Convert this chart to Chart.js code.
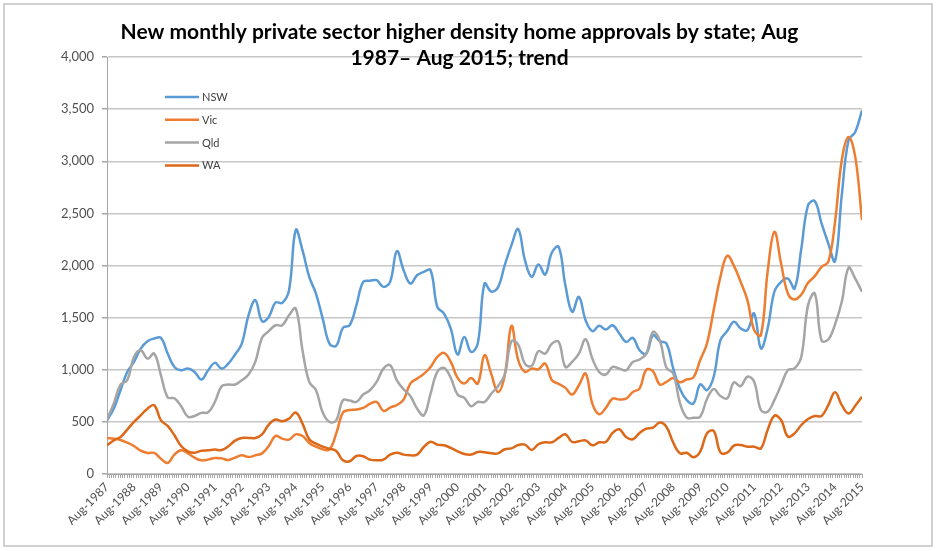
<!DOCTYPE html>
<html>
<head>
<meta charset="utf-8">
<script src="https://cdn.jsdelivr.net/npm/chart.js@4.4.1/dist/chart.umd.min.js"></script>
<style>
html,body{margin:0;padding:0;background:#fff;}
canvas{display:block;}
</style>
</head>
<body>
<canvas id="c" width="939" height="551"></canvas>
<script>
// ---- data (quarterly readings, Aug-1987 .. Aug-2015) ----
const chartTitle = ['New monthly private sector higher density home approvals by state; Aug', '1987\u2013 Aug 2015; trend'];
const xTickLabels = ['Aug-1987','Aug-1988','Aug-1989','Aug-1990','Aug-1991','Aug-1992','Aug-1993','Aug-1994','Aug-1995','Aug-1996',
  'Aug-1997','Aug-1998','Aug-1999','Aug-2000','Aug-2001','Aug-2002','Aug-2003','Aug-2004','Aug-2005','Aug-2006',
  'Aug-2007','Aug-2008','Aug-2009','Aug-2010','Aug-2011','Aug-2012','Aug-2013','Aug-2014','Aug-2015'];
const seriesNames = ['NSW','Vic','Qld','WA'];

const nsw = [515,627,803,979, 1075,1203,1274,1300, 1306,1155,1027,995, 1011,979,906,995,
  1066,1011,1059,1146, 1251,1523,1667,1466, 1507,1645,1642,1763, 2340,2147,1891,1731,
  1491,1251,1230,1402, 1427,1619,1843,1853, 1859,1795,1843,2138, 1955,1827,1907,1939,
  1955,1603,1539,1395, 1146,1315,1171,1251, 1827,1750,1790,2003, 2195,2349,2051,1891,
  2010,1914,2125,2179, 1811,1555,1699,1475, 1370,1421,1386,1427, 1347,1267,1306,1187,
  1155,1331,1274,1251, 1011,815,709,677, 859,805,933,1284, 1371,1460,1396,1380,
  1540,1205,1396,1748, 1843,1875,1780,2163, 2578,2617,2403,2211, 2042,2674,3201,3281,
  3489];
const vic = [346,339,326,301, 269,224,202,202, 147,106,186,227, 198,157,131,138,
  154,150,134,157, 179,163,179,198, 269,365,339,330, 380,365,298,262,
  237,234,387,589, 614,618,634,672, 691,605,637,662, 714,867,915,960,
  1027,1123,1162,1075, 922,867,922,867, 1139,960,787,947, 1421,1091,979,1011,
  1005,1059,899,864, 826,762,851,963, 675,573,634,723, 714,723,787,819,
  1000,985,858,883, 922,880,907,927, 1093,1252,1572,1891, 2093,1997,1843,1668,
  1380,1332,1939,2323, 2019,1732,1674,1722, 1834,1898,1987,2035, 2419,3010,3233,3042,
  2435];
const qld = [525,675,858,899, 1123,1187,1107,1155, 947,736,726,650, 550,557,586,592,
  691,842,858,858, 899,954,1075,1306, 1370,1427,1427,1523, 1587,1187,883,803,
  589,499,515,707, 704,691,762,803, 883,1011,1043,899, 813,749,627,563,
  771,979,1018,922, 762,730,650,691, 691,770,842,954, 1274,1242,1056,1037,
  1178,1155,1251,1267, 1027,1075,1155,1293, 1107,979,954,1027, 1011,995,1075,1098,
  1155,1363,1283,1018, 963,680,540,540, 550,719,815,748, 725,879,843,933,
  885,613,597,709, 853,997,1013,1125, 1620,1732,1280,1290, 1435,1652,1978,1875,
  1748];
const wa = [275,323,355,426, 499,563,627,660, 515,461,371,269, 218,205,224,227,
  234,230,266,320, 346,346,346,381, 474,522,506,531, 590,483,333,291,
  262,243,221,131, 122,173,170,138, 131,138,186,205, 186,179,186,259,
  310,282,275,250, 218,192,186,211, 208,198,198,237, 246,278,282,230,
  285,304,304,346, 381,307,314,323, 275,304,307,394, 429,355,333,394,
  435,445,493,451, 301,198,204,160, 214,390,412,208, 204,272,278,262,
  262,246,422,559, 518,358,390,470, 527,556,556,661, 783,661,581,655,
  741];

const seriesColors = ['#5B9BD5','#ED7D31','#A5A5A5','#DC6819'];
const monthsPerReading = 3;
const monthsTotal = (xTickLabels.length - 1) * 12;

function toPoints(arr){ return arr.map((v,i)=>({x:i*monthsPerReading, y:v})); }

const FONT = 'Lato, "Open Sans", "DejaVu Sans", sans-serif';

const framePlugin = {
  id:'frame',
  beforeDraw(chart){
    const c = chart.ctx;
    c.save();
    c.fillStyle = '#ffffff';
    c.fillRect(0,0,chart.width,chart.height);
    c.strokeStyle = '#c2c2c2';
    c.lineWidth = 1.5;
    c.strokeRect(4,4,928,542);
    c.restore();
  }
};

const insideLegend = {
  id:'insideLegend',
  afterDatasetsDraw(chart){
    const ctx = chart.ctx, a = chart.chartArea;
    ctx.save();
    ctx.font = '11px ' + FONT;
    ctx.textBaseline = 'middle';
    ctx.textAlign = 'left';
    chart.data.datasets.forEach((ds,i)=>{
      const y = a.top + 40 + i*22.8;
      const x0 = a.left + 58;
      ctx.strokeStyle = ds.borderColor;
      ctx.lineWidth = 2.5;
      ctx.beginPath(); ctx.moveTo(x0,y); ctx.lineTo(x0+34,y); ctx.stroke();
      ctx.fillStyle = '#404040';
      ctx.fillText(ds.label, x0+37, y+0.5);
    });
    ctx.restore();
  }
};

const seriesData = [nsw, vic, qld, wa];

new Chart(document.getElementById('c'), {
  type:'line',
  data:{
    datasets: seriesNames.map((name,i)=>({
      label:name,
      data: toPoints(seriesData[i]),
      borderColor: seriesColors[i],
      backgroundColor: seriesColors[i],
      borderWidth: 2.5,
      pointRadius: 0,
      tension: 0.4,
      fill:false,
      order: seriesNames.length - i
    }))
  },
  options:{
    responsive:false,
    animation:false,
    devicePixelRatio:1,
    layout:{padding:{left:57,right:77,top:0,bottom:0}},
    plugins:{
      legend:{display:false},
      tooltip:{enabled:false},
      title:{
        display:true,
        text: chartTitle,
        color:'#000000',
        font:{family:FONT, size:21, weight:'bold', lineHeight:26/21},
        padding:{top:19,bottom:-14}
      }
    },
    scales:{
      x:{
        type:'linear',
        min:0, max:monthsTotal,
        afterFit(s){ s.height = 77; },
        border:{display:true, color:'#a6a6a6', width:1},
        grid:{drawOnChartArea:false, drawTicks:true, tickLength:4, color:'#a6a6a6', lineWidth:1},
        ticks:{
          stepSize:1, autoSkip:false, minRotation:45, maxRotation:45, padding:2,
          color:'#505050', font:{family:FONT, size:12},
          callback:(v)=> (v % 12 === 0 ? xTickLabels[v/12] : '')
        }
      },
      y:{
        min:0, max:4000,
        afterFit(s){ s.width = 50; },
        border:{display:true, color:'#a6a6a6', width:1},
        grid:{color:'#c6c6c6', lineWidth:1.5, tickLength:5, tickColor:'#a6a6a6'},
        ticks:{
          stepSize:500, padding:8, color:'#505050', font:{family:FONT, size:13},
          callback:(v)=> Number(v).toLocaleString('en-US')
        }
      }
    }
  },
  plugins:[framePlugin, insideLegend]
});
</script>
</body>
</html>
